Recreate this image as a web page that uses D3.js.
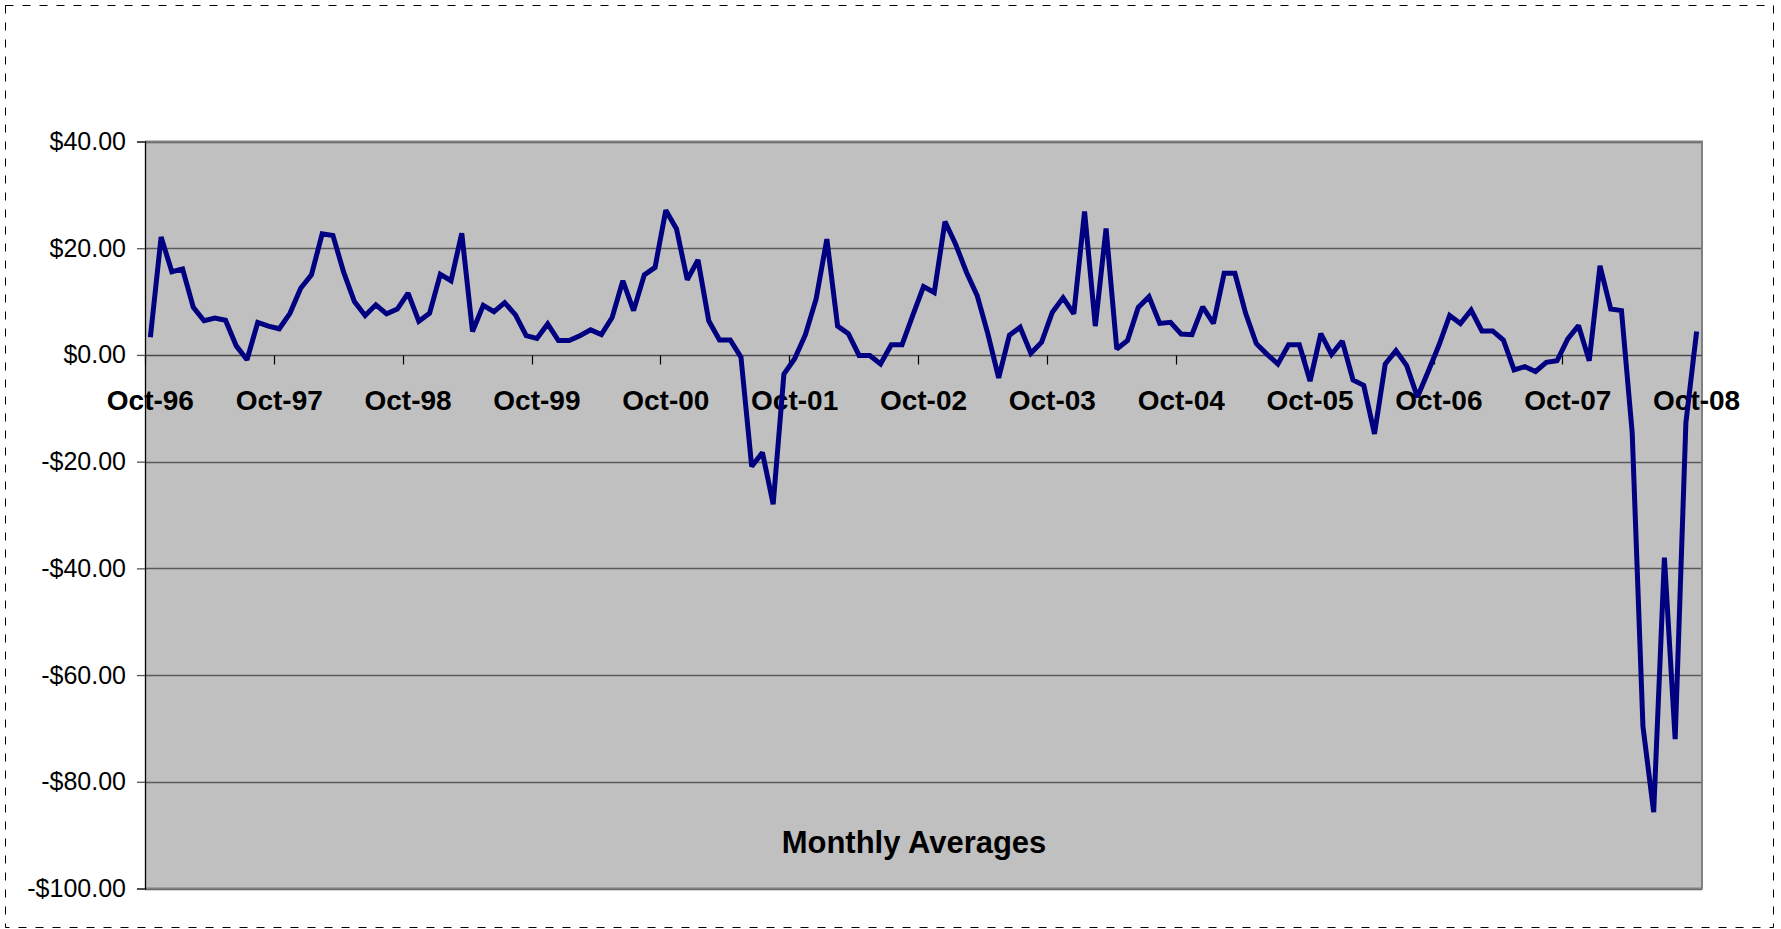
<!DOCTYPE html>
<html>
<head>
<meta charset="utf-8">
<script src="https://cdn.jsdelivr.net/npm/d3@7"></script>
<style>
  body { margin: 0; background: #fff; }
  svg { display: block; }
</style>
</head>
<body>
<script>
// monthly values, Oct-96 .. Oct-08
var values = [
  3.3, 22.1, 15.6, 16.1, 8.9, 6.4, 6.9, 6.5, 1.7, -0.9, 6.1, 5.4,
  4.9, 7.8, 12.5, 15.0, 22.7, 22.4, 15.5, 10.0, 7.4, 9.4, 7.7, 8.6,
  11.6, 6.3, 7.8, 15.1, 13.9, 22.8, 4.4, 9.3, 8.1, 9.8, 7.5, 3.6,
  3.1, 5.8, 2.7, 2.7, 3.6, 4.7, 3.8, 7.0, 13.9, 8.3, 15.0, 16.4,
  27.1, 23.6, 14.1, 17.8, 6.4, 2.8, 2.8, -0.4, -20.9, -18.3, -28.0, -3.6,
  -0.7, 3.8, 10.5, 21.7, 5.4, 4.0, -0.1, -0.1, -1.7, 1.9, 1.9, 7.4,
  12.8, 11.7, 25.0, 20.7, 15.5, 11.1, 3.9, -4.3, 3.7, 5.2, 0.3, 2.4,
  8.0, 10.7, 7.7, 26.9, 5.4, 23.7, 1.1, 2.7, 8.9, 10.9, 5.9, 6.1,
  3.9, 3.8, 9.0, 5.9, 15.3, 15.3, 7.8, 2.1, 0.1, -1.7, 1.9, 1.9,
  -4.9, 4.0, 0.1, 2.6, -4.7, -5.7, -14.8, -1.7, 0.8, -2.0, -7.9, -3.1,
  1.8, 7.4, 5.9, 8.4, 4.5, 4.5, 2.8, -2.8, -2.2, -3.1, -1.4, -1.1,
  3.0, 5.5, -1.1, 16.7, 8.6, 8.3, -14.6, -69.6, -85.7, -38.0, -72.0, -12.7,
  4.4
];

var fmtMonth = d3.timeFormat("%b-%y");
var months = d3.timeMonth.range(new Date(1996, 9, 1), new Date(2008, 10, 1)).map(fmtMonth);

var tickLabels = ["Oct-96", "Oct-97", "Oct-98", "Oct-99", "Oct-00", "Oct-01",
  "Oct-02", "Oct-03", "Oct-04", "Oct-05", "Oct-06", "Oct-07", "Oct-08"];
var yTicks = [40, 20, 0, -20, -40, -60, -80, -100];
var title = "Monthly Averages";

var width = 1781,
    height = 929;

var plot = {left: 145, right: 1702, top: 141.5, bottom: 888.5};

var svg = d3.select("body")
    .append("svg")
    .attr("width", width)
    .attr("height", height);

// dashed outer frame
svg.append("rect")
    .attr("x", 5.5).attr("y", 5.5)
    .attr("width", 1768).attr("height", 922)
    .attr("fill", "none")
    .attr("stroke", "#000")
    .attr("stroke-width", 1)
    .attr("stroke-dasharray", "8,9");

var x = d3.scaleBand()
    .domain(months)
    .range([plot.left, plot.right])
    .padding(0);

var y = d3.scaleLinear()
    .domain([-100, 40])
    .range([plot.bottom, plot.top]);

function xc(m){ return x(m) + x.bandwidth() / 2; }

// plot background
svg.append("rect")
    .attr("x", plot.left).attr("y", plot.top)
    .attr("width", plot.right - plot.left)
    .attr("height", plot.bottom - plot.top)
    .attr("fill", "#c0c0c0");

// gridlines
svg.append("g")
    .selectAll("line")
    .data(yTicks.filter(function(d){ return d != 0; }))
    .enter()
    .append("line")
    .attr("x1", plot.left).attr("x2", plot.right)
    .attr("y1", function(d){ return Math.round(y(d)) + 0.5; })
    .attr("y2", function(d){ return Math.round(y(d)) + 0.5; })
    .attr("stroke", "#5a5a5a")
    .attr("stroke-width", 1.3);

// border top/right/bottom
svg.append("path")
    .attr("d", "M" + plot.left + "," + plot.top + "H" + plot.right + "V" + plot.bottom + "H" + plot.left)
    .attr("fill", "none")
    .attr("stroke", "#808080")
    .attr("stroke-width", 2);

// y axis
var yAxis = d3.axisLeft(y)
    .tickValues(yTicks)
    .tickSize(8)
    .tickPadding(11)
    .tickFormat(function(d){ return (d < 0 ? "-" : "") + "$" + Math.abs(d).toFixed(2); });

var gy = svg.append("g")
    .attr("transform", "translate(" + plot.left + ",0)")
    .call(yAxis);
gy.select(".domain").attr("stroke", "#000").attr("stroke-width", 1.3);
gy.selectAll(".tick line").attr("stroke", "#555").attr("stroke-width", 1.3);
gy.selectAll(".tick text")
    .attr("fill", "#000")
    .style("font-family", "'Liberation Sans', Arial, sans-serif")
    .style("font-size", "25px");

// x axis at zero, ticks at the left edge of each October
var y0 = Math.round(y(0)) + 0.5;
svg.append("line")
    .attr("x1", plot.left).attr("x2", plot.right)
    .attr("y1", y0).attr("y2", y0)
    .attr("stroke", "#4a4a4a")
    .attr("stroke-width", 1.3);

svg.append("g")
    .selectAll("line")
    .data(tickLabels)
    .enter()
    .append("line")
    .attr("x1", function(d){ return Math.round(x(d)) + 0.5; })
    .attr("x2", function(d){ return Math.round(x(d)) + 0.5; })
    .attr("y1", y0).attr("y2", y0 + 9)
    .attr("stroke", "#000")
    .attr("stroke-width", 1.2);

svg.append("g")
    .selectAll("text")
    .data(tickLabels)
    .enter()
    .append("text")
    .attr("x", xc)
    .attr("y", 410)
    .attr("text-anchor", "middle")
    .style("font-family", "'Liberation Sans', Arial, sans-serif")
    .style("font-size", "28px")
    .style("font-weight", "bold")
    .text(function(d){ return d; });

// title inside the plot
svg.append("text")
    .attr("x", 914)
    .attr("y", 853)
    .attr("text-anchor", "middle")
    .style("font-family", "'Liberation Sans', Arial, sans-serif")
    .style("font-size", "31px")
    .style("font-weight", "bold")
    .text(title);

// the series
var line = d3.line()
    .x(function(d, i){ return xc(months[i]); })
    .y(function(d){ return y(d); });

svg.append("path")
    .datum(values)
    .attr("d", line)
    .attr("fill", "none")
    .attr("stroke", "#000080")
    .attr("stroke-width", 5)
    .attr("stroke-linejoin", "miter")
    .attr("stroke-miterlimit", 2);
</script>
</body>
</html>
